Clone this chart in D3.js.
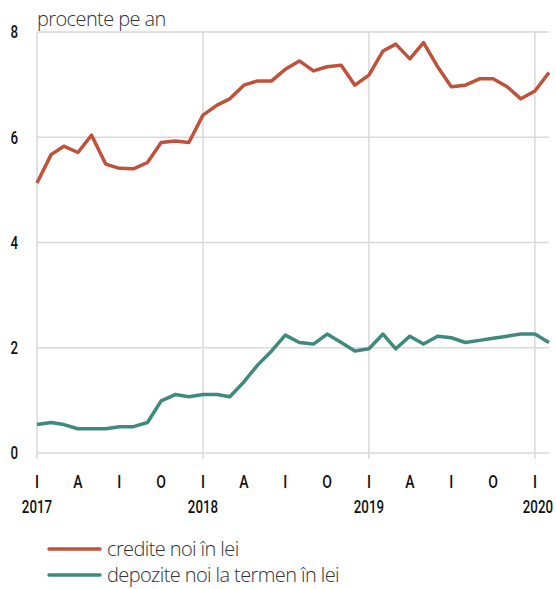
<!DOCTYPE html>
<html><head><meta charset="utf-8">
<script src="https://cdn.jsdelivr.net/npm/d3@7"></script>
<style>
body{margin:0;background:#fff;}
svg{display:block;}
</style></head>
<body>
<svg id="chart" width="556" height="589"></svg>
<script>
const startYear = 2017, startMonth = 0;
const credite = [5.13,5.67,5.83,5.71,6.04,5.49,5.41,5.40,5.52,5.90,5.93,5.90,
  6.42,6.61,6.73,6.99,7.07,7.07,7.29,7.45,7.26,7.34,7.37,6.99,
  7.18,7.64,7.77,7.49,7.80,7.34,6.96,6.99,7.11,7.11,6.96,6.73,
  6.88,7.23];
const depozite = [0.54,0.58,0.54,0.46,0.46,0.46,0.50,0.50,0.58,0.99,1.11,1.07,
  1.11,1.11,1.07,1.35,1.67,1.94,2.24,2.10,2.07,2.26,2.10,1.94,
  1.98,2.26,1.98,2.22,2.07,2.22,2.19,2.10,2.14,2.18,2.22,2.26,
  2.26,2.10];
const yTicks = [0,2,4,6,8];
const quarterLabels = ["I","A","I","O"];
const yearLabels = ["2017","2018","2019","2020"];
const seriesNames = ["credite noi în lei","depozite noi la termen în lei"];
const colors = ["#c0513a","#3e8a7d"];
const unitLabel = "procente pe an";

const dates = credite.map((_, i) => new Date(startYear, startMonth + i, 1));
const svg = d3.select("#chart");
const m = {left:37, right:7, top:32, bottom:136};
const W = 556, H = 589;
const x = d3.scaleTime().domain([dates[0], dates[dates.length-1]]).range([m.left, W - m.right]);
const y = d3.scaleLinear().domain([0,8]).range([H - m.bottom, m.top]);
const condFont = "Roboto, sans-serif";
const lightFont = "'Open Sans', sans-serif";
const grid = "#d9d9d9";
const SX = 0.74;

// horizontal grid
svg.append("g").selectAll("line").data(yTicks).join("line")
  .attr("x1", m.left).attr("x2", W - m.right)
  .attr("y1", d => y(d)).attr("y2", d => y(d))
  .attr("stroke", grid).attr("stroke-width", 1.5);
// vertical grid at each January
const janDates = yearLabels.map(yr => new Date(+yr, 0, 1));
svg.append("g").selectAll("line").data(janDates).join("line")
  .attr("x1", d => x(d)).attr("x2", d => x(d))
  .attr("y1", m.top).attr("y2", y(0) + 6)
  .attr("stroke", grid).attr("stroke-width", 1.5);

// y axis labels (condensed by horizontal scaling)
svg.append("g").selectAll("text").data(yTicks).join("text")
  .attr("transform", d => `translate(18,${y(d)}) scale(${SX},1)`)
  .attr("dy", "0.36em")
  .attr("text-anchor", "end").attr("font-family", condFont).attr("font-size", 18)
  .attr("font-weight", 500).attr("fill", "#111").text(d => d);

// quarter labels
const qDates = d3.range(0, credite.length, 3).map(i => dates[i]);
svg.append("g").selectAll("text").data(qDates).join("text")
  .attr("transform", d => `translate(${x(d)},${y(0) + 35}) scale(${SX},1)`)
  .attr("text-anchor", "middle").attr("font-family", condFont).attr("font-size", 19)
  .attr("font-weight", 500).attr("fill", "#111").text(d => quarterLabels[d.getMonth() / 3]);
// year labels
svg.append("g").selectAll("text").data(janDates).join("text")
  .attr("transform", (d, i) => `translate(${x(d) + (i === janDates.length - 1 ? 3 : 0)},${y(0) + 60}) scale(${SX},1)`)
  .attr("text-anchor", "middle").attr("font-family", condFont).attr("font-size", 18)
  .attr("font-weight", 500).attr("fill", "#111").text((d, i) => yearLabels[i]);

// unit label
svg.append("text").attr("x", m.left).attr("y", 26)
  .attr("font-family", lightFont).attr("font-weight", 300).attr("font-size", 20)
  .attr("fill", "#333").attr("letter-spacing", "-0.6").text(unitLabel);

// lines
const line = d3.line().x((d, i) => x(dates[i])).y(d => y(d));
[credite, depozite].forEach((s, k) => {
  svg.append("path").datum(s).attr("d", line)
    .attr("fill", "none").attr("stroke", colors[k]).attr("stroke-width", 3.5)
    .attr("stroke-linejoin", "round");
});

// legend
const lg = svg.append("g");
seriesNames.forEach((n, k) => {
  const ly = 549 + k * 26;
  lg.append("line").attr("x1", 49).attr("x2", 100).attr("y1", ly).attr("y2", ly)
    .attr("stroke", colors[k]).attr("stroke-width", 3.5).attr("stroke-linecap", "round");
  lg.append("text").attr("x", 107).attr("y", ly).attr("dy", "0.33em")
    .attr("font-family", lightFont).attr("font-weight", 300).attr("font-size", 20)
    .attr("fill", "#333").attr("letter-spacing", "-0.6").text(n);
});
</script>
</body></html>
